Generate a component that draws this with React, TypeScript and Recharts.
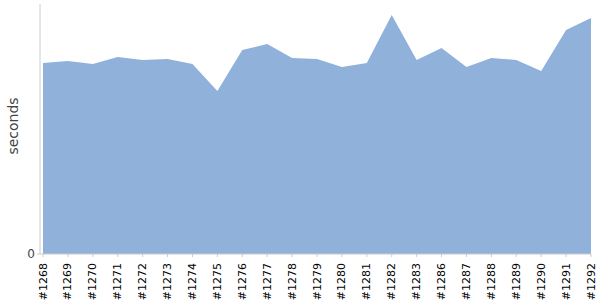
import React from 'react';
import { AreaChart, Area, XAxis, YAxis, Label } from 'recharts';

const builds = [
    '#1268', '#1269', '#1270', '#1271', '#1272', '#1273', '#1274', '#1275',
    '#1276', '#1277', '#1278', '#1279', '#1280', '#1281', '#1282', '#1283',
    '#1286', '#1287', '#1288', '#1289', '#1290', '#1291', '#1292',
];
const seconds = [
    191, 193, 190, 197, 194, 195, 190, 163,
    204, 210, 196, 195, 187, 191, 239, 194,
    206, 187, 196, 194, 183, 224, 236,
];
const yTicks = [0];

const data = builds.map((build, i) => ({ build, seconds: seconds[i] }));

const font = '"DejaVu Sans", Verdana, sans-serif';

const BuildTick = (props: any) => {
    const { x, y, payload } = props;
    return (
        <text
            x={0}
            y={0}
            transform={`translate(${x},${y + 4}) rotate(-90)`}
            textAnchor="end"
            dominantBaseline="central"
            fontSize={11}
            fontFamily={font}
            fill="#000"
        >
            {payload.value}
        </text>
    );
};

export default function App() {
    return (
        <div style={{ position: 'absolute', left: 0, top: 0, background: '#fff' }}>
            <AreaChart width={600} height={300} data={data} margin={{ top: 4, right: 9, bottom: 0, left: 0 }}>
                <XAxis
                    dataKey="build"
                    interval={0}
                    height={46}
                    padding={{ left: 3, right: 0 }}
                    stroke="#ccc"
                    tickSize={3}
                    tick={<BuildTick />}
                />
                <YAxis
                    width={40}
                    domain={[0, 250]}
                    ticks={yTicks}
                    stroke="#ccc"
                    tickSize={3}
                    tick={{ fontSize: 12, fontFamily: font, fill: '#444' }}
                >
                    <Label
                        content={() => (
                            <text
                                x={0}
                                y={0}
                                transform="translate(13,126) rotate(-90)"
                                textAnchor="middle"
                                dominantBaseline="central"
                                fontSize={14}
                                fontFamily={font}
                                fill="#444"
                            >
                                seconds
                            </text>
                        )}
                    />
                </YAxis>
                <Area
                    type="linear"
                    dataKey="seconds"
                    stroke="none"
                    fill="#8fb1da"
                    fillOpacity={1}
                    isAnimationActive={false}
                />
            </AreaChart>
        </div>
    );
}
